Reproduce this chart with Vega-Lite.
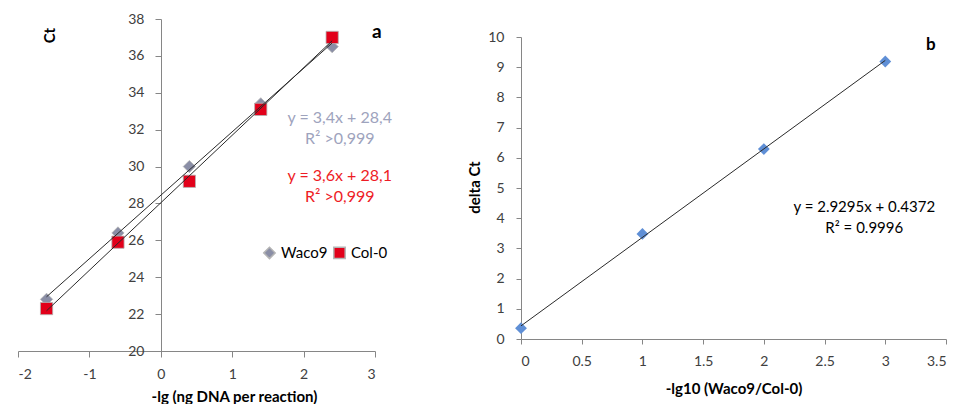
{
  "$schema": "https://vega.github.io/schema/vega-lite/v6.json",
  "background": "white",
  "padding": {"left": 17, "top": 12, "right": 0, "bottom": 0},
  "spacing": 74,
  "config": {
    "view": {"stroke": null},
    "font": "Lato",
    "axis": {
      "grid": false,
      "labelOverlap": false,
      "labelBound": false,
      "tickCount": 30,
      "domainColor": "#868686",
      "tickColor": "#868686",
      "labelColor": "#404040",
      "labelFont": "Lato",
      "labelFontSize": 14,
      "titleFont": "Lato",
      "titleFontSize": 15,
      "titleFontWeight": "bold",
      "titleColor": "#000000"
    }
  },
  "datasets": {
    "std": [
      {"sample": "Waco9", "x": -1.6, "ct": 22.8},
      {"sample": "Waco9", "x": -0.6, "ct": 26.4},
      {"sample": "Waco9", "x": 0.4, "ct": 30.0},
      {"sample": "Waco9", "x": 1.4, "ct": 33.4},
      {"sample": "Waco9", "x": 2.4, "ct": 36.5},
      {"sample": "Col-0", "x": -1.6, "ct": 22.3},
      {"sample": "Col-0", "x": -0.6, "ct": 25.9},
      {"sample": "Col-0", "x": 0.4, "ct": 29.2},
      {"sample": "Col-0", "x": 1.4, "ct": 33.1},
      {"sample": "Col-0", "x": 2.4, "ct": 37.0}
    ],
    "delta": [
      {"x": 0, "d": 0.36},
      {"x": 1, "d": 3.48},
      {"x": 2, "d": 6.29},
      {"x": 3, "d": 9.19}
    ],
    "none": []
  },
  "hconcat": [
    {
      "width": 357,
      "height": 332,
      "layer": [
        {
          "data": {"name": "std"},
          "mark": {"type": "point", "filled": true, "opacity": 1, "size": 150, "stroke": "#b4b4b4", "strokeWidth": 0.8},
          "encoding": {
            "x": {"field": "x", "type": "quantitative", "scale": {"domain": [-2, 3], "nice": false},
              "axis": {"values": [-2, -1, 0, 1, 2, 3], "tickCount": 30, "labelOverlap": false, "labelExpr": "'' + datum.value", "tickSize": 6, "labelPadding": 10,
                "title": "-lg (ng DNA per reaction)", "titleX": 216, "titleY": 38, "titleBaseline": "top"}},
            "y": {"field": "ct", "type": "quantitative", "scale": {"domain": [20, 38], "nice": false, "zero": false},
              "axis": {"values": [20, 22, 24, 26, 28, 30, 32, 34, 36, 38], "format": "~g", "tickCount": 30, "labelOverlap": false, "offset": -143, "tickSize": 6, "labelPadding": 11,
                "title": "Ct", "titleX": -112, "titleY": 16, "titleBaseline": "middle", "titleAngle": -90, "titleFontSize": 15}},
            "color": {"field": "sample", "type": "nominal", "scale": {"domain": ["Waco9", "Col-0"], "range": ["#8a8ea6", "#e2001a"]},
              "legend": {"title": null, "orient": "none", "legendX": 244, "legendY": 226, "direction": "horizontal", "labelFontSize": 15, "labelColor": "#000000", "symbolSize": 130, "columnPadding": 2, "padding": 0}},
            "shape": {"field": "sample", "type": "nominal", "scale": {"domain": ["Waco9", "Col-0"], "range": ["diamond", "square"]}, "legend": {"title": null}}
          }
        },
        {
          "data": {"name": "std"},
          "transform": [{"regression": "ct", "on": "x", "groupby": ["sample"]}],
          "mark": {"type": "line", "color": "#2a2a2a", "strokeWidth": 1},
          "encoding": {
            "x": {"field": "x", "type": "quantitative"},
            "y": {"field": "ct", "type": "quantitative"},
            "detail": {"field": "sample", "type": "nominal"}
          }
        },
        {
          "data": {"values": [
            {"x": 2.506, "y": 32.63, "t": "y = 3,4x + 28,4"},
            {"x": 2.506, "y": 31.49, "t": "R² >0,999"}
          ]},
          "mark": {"type": "text", "fontSize": 16, "color": "#9ea3bd", "align": "center", "baseline": "middle"},
          "encoding": {"x": {"field": "x", "type": "quantitative"}, "y": {"field": "y", "type": "quantitative"}, "text": {"field": "t"}}
        },
        {
          "data": {"values": [
            {"x": 2.506, "y": 29.49, "t": "y = 3,6x + 28,1"},
            {"x": 2.506, "y": 28.35, "t": "R² >0,999"}
          ]},
          "mark": {"type": "text", "fontSize": 16, "color": "#ee1c25", "align": "center", "baseline": "middle"},
          "encoding": {"x": {"field": "x", "type": "quantitative"}, "y": {"field": "y", "type": "quantitative"}, "text": {"field": "t"}}
        },
        {
          "data": {"values": [{"x": 3.025, "y": 37.31, "t": "a"}]},
          "mark": {"type": "text", "fontSize": 19, "fontWeight": "bold", "color": "#000000", "align": "center", "baseline": "middle"},
          "encoding": {"x": {"field": "x", "type": "quantitative"}, "y": {"field": "y", "type": "quantitative"}, "text": {"field": "t"}}
        }
      ]
    },
    {
      "spacing": 10,
      "vconcat": [
        {
          "width": 425,
          "height": 1,
          "data": {"name": "none"},
          "mark": {"type": "point", "opacity": 0},
          "encoding": {}
        },
        {
          "width": 425,
          "height": 302,
          "layer": [
            {
              "data": {"name": "delta"},
              "mark": {"type": "point", "filled": true, "opacity": 1, "size": 140, "shape": "diamond", "color": "#5f8fd6"},
              "encoding": {
                "x": {"field": "x", "type": "quantitative", "scale": {"domain": [0, 3.5], "nice": false},
                  "axis": {"values": [0, 0.5, 1, 1.5, 2, 2.5, 3, 3.5], "tickCount": 30, "labelOverlap": false, "format": "~g", "tickSize": 5, "labelPadding": 10,
                    "title": "-lg10 (Waco9/Col-0)", "titleY": 42, "titleBaseline": "top"}},
                "y": {"field": "d", "type": "quantitative", "scale": {"domain": [0, 10], "nice": false},
                  "axis": {"values": [0, 1, 2, 3, 4, 5, 6, 7, 8, 9, 10], "format": "~g", "tickCount": 30, "labelOverlap": false, "tickSize": 5, "labelPadding": 12,
                    "title": "delta Ct", "titleX": -47, "titleY": 150, "titleBaseline": "middle", "titleAngle": -90}}
              }
            },
            {
              "data": {"name": "delta"},
              "transform": [{"regression": "d", "on": "x"}],
              "mark": {"type": "line", "color": "#2a2a2a", "strokeWidth": 1},
              "encoding": {
                "x": {"field": "x", "type": "quantitative"},
                "y": {"field": "d", "type": "quantitative"}
              }
            },
            {
              "data": {"values": [
                {"x": 2.827, "y": 4.38, "t": "y = 2.9295x + 0.4372"},
                {"x": 2.827, "y": 3.68, "t": "R² = 0.9996"}
              ]},
              "mark": {"type": "text", "fontSize": 15, "color": "#000000", "align": "center", "baseline": "middle"},
              "encoding": {"x": {"field": "x", "type": "quantitative"}, "y": {"field": "y", "type": "quantitative"}, "text": {"field": "t"}}
            },
            {
              "data": {"values": [{"x": 3.376, "y": 9.74, "t": "b"}]},
              "mark": {"type": "text", "fontSize": 17, "fontWeight": "bold", "color": "#000000", "align": "center", "baseline": "middle"},
              "encoding": {"x": {"field": "x", "type": "quantitative"}, "y": {"field": "y", "type": "quantitative"}, "text": {"field": "t"}}
            }
          ]
        }
      ]
    }
  ],
  "resolve": {"scale": {"x": "independent", "y": "independent"}}
}
